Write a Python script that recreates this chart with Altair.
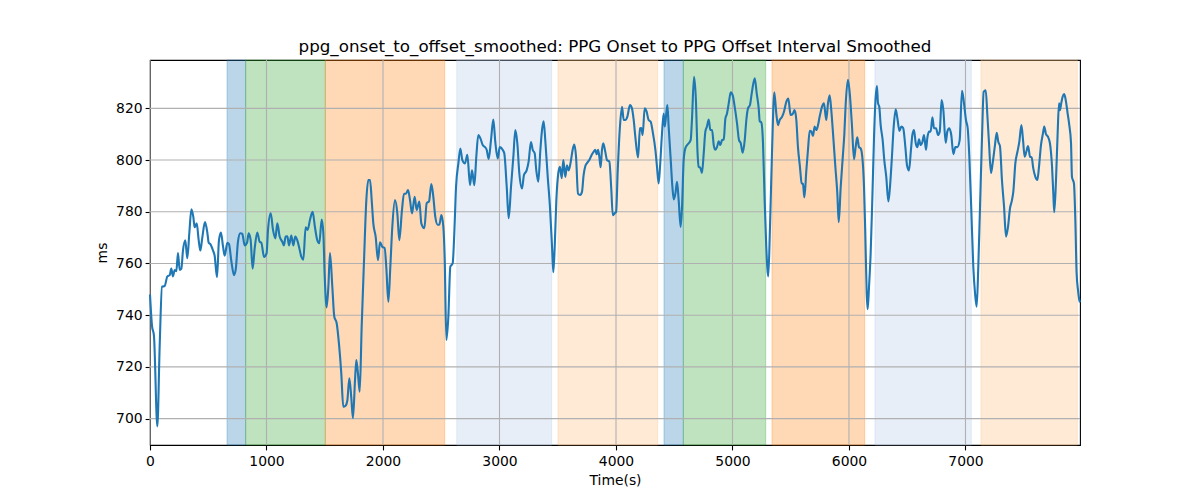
import altair as alt
import pandas as pd

title_text = "ppg_onset_to_offset_smoothed: PPG Onset to PPG Offset Interval Smoothed"
x_title = "Time(s)"
y_title = "ms"

x_ticks = [0, 1000, 2000, 3000, 4000, 5000, 6000, 7000]
y_ticks = [700, 720, 740, 760, 780, 800, 820]
x_domain = [0, 7983]
y_domain = [689.8, 838.7]

band_start = [661, 821, 1505, 2633, 3502, 4412, 4578, 5339, 6223, 7133]
band_end = [821, 1505, 2530, 3448, 4358, 4578, 5285, 6135, 7050, 7960]
band_color = ["#1f77b4", "#2ca02c", "#ff7f0e", "#aec7e8", "#ffbb78",
              "#1f77b4", "#2ca02c", "#ff7f0e", "#aec7e8", "#ffbb78"]

time_s = [0, 17, 34, 63, 83, 103, 126, 149, 169, 183, 197, 212, 226, 240, 255, 269, 283, 303, 320, 338,
          355, 372, 383, 401, 418, 432, 449, 472, 492, 504, 518, 541, 555, 575, 592, 609, 627, 641, 664, 678,
          698, 721, 736, 755, 775, 792, 813, 833, 847, 864, 881, 899, 921, 941, 956, 979, 1001, 1013, 1036, 1056,
          1076, 1093, 1113, 1136, 1150, 1164, 1179, 1193, 1213, 1230, 1247, 1264, 1279, 1299, 1316, 1336, 1353, 1373, 1396, 1416,
          1436, 1453, 1474, 1488, 1499, 1516, 1531, 1545, 1565, 1582, 1602, 1622, 1642, 1659, 1679, 1694, 1711, 1728, 1742, 1760,
          1771, 1785, 1800, 1817, 1837, 1857, 1874, 1889, 1903, 1917, 1937, 1957, 1974, 1997, 2014, 2028, 2046, 2063, 2080, 2103,
          2123, 2140, 2163, 2180, 2197, 2215, 2232, 2249, 2272, 2289, 2312, 2329, 2355, 2375, 2395, 2415, 2432, 2449, 2469, 2484,
          2501, 2518, 2530, 2544, 2561, 2578, 2598, 2612, 2627, 2647, 2664, 2681, 2704, 2724, 2747, 2764, 2784, 2801, 2818, 2838,
          2856, 2876, 2890, 2907, 2927, 2947, 2964, 2985, 3002, 3027, 3041, 3062, 3079, 3099, 3119, 3136, 3153, 3170, 3193, 3210,
          3233, 3250, 3270, 3285, 3302, 3316, 3333, 3351, 3365, 3379, 3393, 3414, 3433, 3451, 3462, 3474, 3488, 3505, 3519, 3534,
          3548, 3565, 3579, 3594, 3614, 3628, 3642, 3657, 3674, 3691, 3708, 3722, 3737, 3754, 3771, 3791, 3808, 3822, 3834, 3846,
          3857, 3868, 3880, 3891, 3908, 3923, 3943, 3960, 3972, 3989, 4001, 4015, 4034, 4052, 4066, 4080, 4097, 4120, 4137, 4152,
          4166, 4189, 4206, 4217, 4229, 4246, 4263, 4280, 4298, 4315, 4338, 4352, 4366, 4378, 4395, 4409, 4418, 4426, 4441, 4452,
          4470, 4484, 4496, 4510, 4524, 4538, 4555, 4567, 4581, 4595, 4618, 4641, 4652, 4670, 4687, 4698, 4710, 4724, 4738, 4753,
          4767, 4781, 4796, 4810, 4825, 4839, 4853, 4867, 4882, 4896, 4910, 4925, 4939, 4953, 4968, 4985, 5002, 5019, 5039, 5056,
          5071, 5088, 5105, 5119, 5133, 5150, 5167, 5191, 5208, 5225, 5234, 5247, 5262, 5276, 5290, 5307, 5322, 5339, 5359, 5376,
          5391, 5405, 5425, 5442, 5462, 5479, 5499, 5519, 5533, 5548, 5562, 5579, 5594, 5605, 5617, 5634, 5648, 5663, 5677, 5691,
          5705, 5720, 5734, 5751, 5768, 5785, 5805, 5820, 5834, 5848, 5863, 5883, 5900, 5912, 5929, 5949, 5960, 5971, 5991, 6009,
          6026, 6043, 6057, 6071, 6086, 6100, 6114, 6129, 6140, 6152, 6160, 6172, 6186, 6200, 6215, 6226, 6240, 6249, 6260, 6272,
          6289, 6303, 6320, 6338, 6352, 6367, 6384, 6401, 6416, 6433, 6450, 6465, 6484, 6498, 6515, 6532, 6544, 6558, 6573, 6587,
          6601, 6615, 6630, 6644, 6661, 6672, 6687, 6701, 6716, 6730, 6747, 6764, 6779, 6795, 6810, 6830, 6844, 6861, 6878, 6896,
          6913, 6930, 6950, 6970, 6987, 7004, 7019, 7033, 7050, 7067, 7082, 7096, 7110, 7124, 7142, 7156, 7174, 7187, 7202, 7219,
          7233, 7251, 7268, 7282, 7296, 7313, 7331, 7348, 7365, 7382, 7399, 7411, 7428, 7446, 7462, 7480, 7494, 7508, 7522, 7537,
          7554, 7568, 7582, 7600, 7617, 7631, 7648, 7665, 7676, 7691, 7708, 7725, 7743, 7754, 7762, 7777, 7791, 7803, 7811, 7820,
          7834, 7848, 7863, 7877, 7891, 7906, 7914, 7931, 7943, 7954, 7966, 7977, 7983]

interval_ms = [748, 736, 732, 697, 728, 751, 751.3, 755, 755.5, 758, 755, 757.5, 757, 764, 757.5, 758, 765, 769, 762, 772,
               781, 778, 774, 775.5, 769, 765, 770, 776, 772, 768, 767.5, 765, 763, 754.7, 769, 772, 766.5, 763, 768, 767.5,
               761, 755.5, 757.7, 768.4, 771.7, 771.5, 767, 768, 771.7, 769, 758, 766, 772, 768.4, 768, 762.5, 764, 773, 779.4, 773,
               769.7, 775.5, 770.4, 768.4, 767, 770.4, 770.5, 767, 770.8, 767, 770.4, 769, 766.5, 762.6, 761.5, 774, 773, 776.8, 780, 774,
               769, 767.8, 777, 771.7, 756, 743, 751, 764, 751, 739.4, 737, 729, 717.5, 704.6, 705, 707, 715.6, 708, 700.2, 715,
               722.7, 717.5, 710.4, 735.6, 761, 784.5, 792.3, 792.3, 784.5, 775.5, 770.4, 761.3, 768.2, 766.3, 766, 758.8, 745.2, 758.8, 774.2, 784.5,
               779.4, 769, 780.7, 787, 787, 788.4, 784.5, 779.4, 785.8, 780.7, 784, 775.5, 773.6, 783.3, 784, 790.7, 785.8, 778, 775, 775,
               778.7, 774.2, 761.3, 730.4, 739.4, 758.8, 760, 771.7, 789.7, 798.7, 804.5, 800, 798.7, 802, 790.3, 796, 790.3, 801.3, 809.7, 808.2,
               805.8, 805, 804, 800.4, 807.7, 815.7, 807, 800.6, 805, 804, 802.6, 789.7, 777.5, 789.7, 801.3, 811.6, 806.5, 795, 789, 794.2,
               796, 799.4, 807, 804, 802.6, 796, 791.6, 804, 811.6, 815, 807.7, 793.5, 782, 766.5, 756.6, 766.5, 784.5, 795, 797.4, 793,
               800, 793.5, 798, 796, 800, 804, 806, 801.3, 787, 786.5, 787.7, 794.2, 797.7, 799, 800, 802, 803.2, 804, 802.3, 804,
               801.3, 797.2, 804, 806.5, 803.2, 800, 799.4, 788.4, 778.7, 779.4, 780, 796, 813, 820.6, 815.5, 815.5, 816.7, 821.3, 820, 815.5,
               809, 801, 812.3, 812.4, 809.7, 820, 818.7, 815.5, 814.8, 811, 804, 797.4, 791, 797.4, 810.3, 818, 813, 815.5, 821.3, 813,
               800, 789.7, 784.8, 787, 791.6, 784.5, 774.2, 782, 800, 804.5, 806.2, 807.7, 815.5, 832.2, 822, 805, 797.4, 797, 795, 802.6,
               811, 813, 815.7, 811.6, 811.6, 805.8, 804, 805, 807.3, 805.8, 807.7, 808, 816, 818, 822, 826.2, 825, 820.6, 814.2, 807.7,
               806.5, 802.8, 807.7, 815.5, 820, 821.3, 826.4, 831.6, 825.8, 820, 815, 814.6, 806.5, 784.5, 766.5, 755, 774.2, 802.6, 826.2, 818,
               813.5, 815.5, 816.7, 818.7, 822.5, 823.8, 817.4, 818, 819.3, 815.5, 805, 797.4, 791, 790.8, 785.6, 796, 804, 811.3, 811, 809.3,
               813, 811.6, 813.5, 817.4, 820.6, 822, 815.5, 822, 825, 819.3, 810.3, 797.4, 787, 776, 789.7, 802.6, 810, 821, 831, 824.5,
               813, 800.3, 805, 808.8, 805, 804.5, 801.3, 789.7, 771.7, 748.5, 742.3, 751, 764, 784.5, 809, 822, 828.6, 822, 820.6, 813.5,
               807.7, 800, 793.5, 784, 789.7, 800, 813, 819.6, 816, 811.3, 813, 812.4, 805, 798, 796, 804, 809.7, 811.6, 806.5, 805,
               808, 805.8, 807, 809.7, 804, 808.4, 811, 811, 816.5, 812.3, 812.3, 809.7, 811, 823.2, 819.3, 806.7, 811, 812.3, 809.7, 802.3,
               805, 805, 807.7, 826.8, 822, 815.5, 812.3, 801.3, 780.7, 758.8, 748.5, 743.3, 758.8, 780.7, 809, 826.4, 827, 818, 806.5, 795,
               798.7, 805, 810.5, 807, 805.4, 792.3, 782, 770.4, 774.2, 781.3, 784.5, 788, 798.7, 803.2, 807, 813.5, 807.7, 801.3, 803.2, 805.4,
               801.3, 801, 796.8, 793.5, 792.3, 797.4, 805.8, 810.3, 813, 810, 809, 806.5, 797.4, 787, 779.8, 792.3, 810.3, 822, 819.3, 821.5,
               824.5, 825.5, 822.5, 818, 813.5, 806.5, 793.5, 791, 776.8, 756.2, 749.7, 745.9, 745]

FONT = "DejaVu Sans"

line_df = pd.DataFrame({"time": time_s, "ms": interval_ms})
band_df = pd.DataFrame({"start": band_start, "end": band_end, "color": band_color})
xgrid_df = pd.DataFrame({"v": x_ticks})
ygrid_df = pd.DataFrame({"v": y_ticks})

xscale = alt.Scale(domain=x_domain, nice=False, zero=False)
yscale = alt.Scale(domain=y_domain, nice=False, zero=False)

bands = alt.Chart(band_df).mark_rect(fillOpacity=0.3, strokeOpacity=0.3, strokeWidth=1).encode(
    x=alt.X("start:Q", scale=xscale),
    x2="end:Q",
    fill=alt.Fill("color:N", scale=None),
    stroke=alt.Stroke("color:N", scale=None),
)

xgrid = alt.Chart(xgrid_df).mark_rule(color="#b0b0b0", strokeWidth=1.1).encode(
    x=alt.X("v:Q", scale=xscale)
)
ygrid = alt.Chart(ygrid_df).mark_rule(color="#b0b0b0", strokeWidth=1.1).encode(
    y=alt.Y("v:Q", scale=yscale)
)

line = alt.Chart(line_df).mark_line(color="#1f77b4", strokeWidth=2.1, interpolate="monotone").encode(
    x=alt.X("time:Q", scale=xscale, title=x_title,
            axis=alt.Axis(values=x_ticks, format="d", grid=False, labelFlush=False)),
    y=alt.Y("ms:Q", scale=yscale, title=y_title,
            axis=alt.Axis(values=y_ticks, format="d", grid=False, labelFlush=False)),
)

chart = alt.layer(bands, xgrid, ygrid, line).properties(
    width=930,
    height=385,
    title=alt.TitleParams(title_text, font=FONT, fontSize=16.7, fontWeight="normal",
                          color="black", anchor="middle", offset=4),
    autosize=alt.AutoSizeParams(type="none"),
    padding={"left": 142, "top": 52, "right": 110, "bottom": 46},
).configure_view(
    stroke="black", strokeWidth=1.1
).configure_axis(
    labelFont=FONT, labelFontSize=13.9, labelColor="black",
    titleFont=FONT, titleFontSize=13.9, titleColor="black", titleFontWeight="normal",
    tickColor="black", tickSize=4.9, tickWidth=1.1, domain=False,
    labelPadding=3,
).configure_axisX(
    labelPadding=5,
    titlePadding=5,
).configure_axisY(
    titlePadding=6,
)

chart.save("out.html", embed_options={"renderer": "svg", "actions": False})
